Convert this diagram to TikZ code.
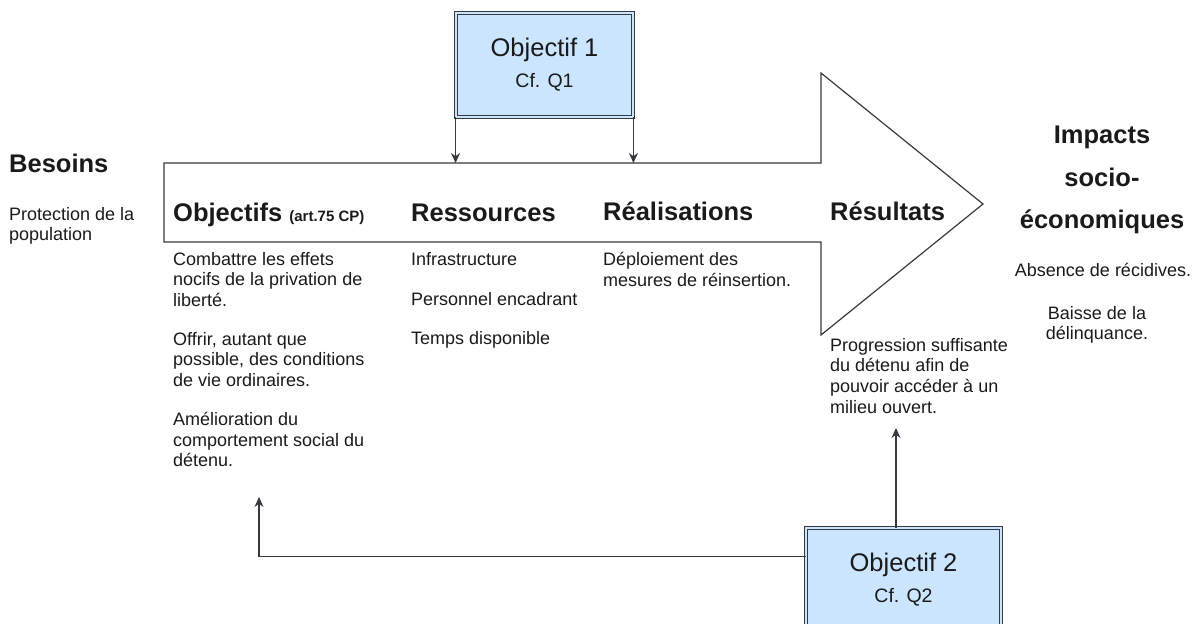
\documentclass[tikz,border=0pt]{standalone}
\usepackage{fontspec}
\setmainfont{Liberation Sans}
\usetikzlibrary{arrows.meta}
\definecolor{boxfill}{HTML}{CCE5FF}
\definecolor{stroke}{HTML}{36393D}
\definecolor{ink}{HTML}{1A1A1A}
\tikzset{
  body/.style={font=\fontsize{18}{20.7}\selectfont, align=left, anchor=north west, inner sep=0pt, text=ink},
  head/.style={font=\fontsize{25.5}{30}\selectfont\bfseries, anchor=base west, inner sep=0pt, text=ink},
  objbox/.style={draw=stroke, line width=0.9pt, double=boxfill, double distance=2.2pt, fill=boxfill, inner sep=0pt, align=center, text=ink, font=\fontsize{19.5}{31}\selectfont},
  conn/.style={draw=stroke, line width=1.2pt, -{Stealth[length=10pt,width=9pt]}},
  bigarrow/.style={draw=stroke, line width=1.2pt, line join=miter}
}
\begin{document}
\begin{tikzpicture}[x=1pt,y=-1pt]
\useasboundingbox (0,0) rectangle (1192,624);
\clip (0,0) rectangle (1192,624);

% big arrow
\draw[bigarrow] (164,163) -- (821,163) -- (821,73) -- (983,204) -- (821,335) -- (821,242) -- (164,242) -- cycle;
\coordinate (shafttop) at (164,163);

% left column
\node[head] (besoins) at (9,172) {Besoins};
\node[body] (besoinsTxt) at (9,207) {Protection de la\\population};

% headings in arrow
\node[head] (objH) at (173,221) {Objectifs {\fontsize{15}{18}\selectfont (art.75 CP)}};
\node[head] (resH) at (411,221) {Ressources};
\node[head] (realH) at (603,220) {Réalisations};
\node[head] (resuH) at (830,220) {Résultats};

% Objectifs texts
\node[body] (obj1) at (173,252) {Combattre les effets\\nocifs de la privation de\\liberté.};
\node[body] (obj2) at (173,332) {Offrir, autant que\\possible, des conditions\\de vie ordinaires.};
\node[body] (obj3) at (173,412) {Amélioration du\\comportement social du\\détenu.};

% Ressources texts
\node[body] (res1) at (411,252) {Infrastructure};
\node[body] (res2) at (411,292) {Personnel encadrant};
\node[body] (res3) at (411,331) {Temps disponible};

% Réalisations
\node[body] (real1) at (603,252) {Déploiement des\\mesures de réinsertion.};

% Résultats
\node[body] (resu1) at (830,338) {Progression suffisante\\du détenu afin de\\pouvoir accéder à un\\milieu ouvert.};

% Impacts
\node[font=\fontsize{25.5}{42.5}\selectfont\bfseries, align=center, anchor=north, inner sep=0pt, text=ink] (impH) at (1102,126) {Impacts\\socio-\\économiques};
\node[font=\fontsize{18}{20.7}\selectfont, anchor=base, inner sep=0pt, text=ink] (imp1) at (1103,276) {Absence de récidives.};
\node[font=\fontsize{18}{20.7}\selectfont, align=center, anchor=north, inner sep=0pt, text=ink] (imp2) at (1097,306) {Baisse de la\\délinquance.};

% Objective boxes
\node[objbox, minimum width=177pt, minimum height=104pt] (o1) at (544.5,65) {{\fontsize{25.5}{31}\selectfont Objectif 1}\\Cf. Q1};
\node[objbox, minimum width=195pt, minimum height=104pt] (o2) at (903.5,580) {{\fontsize{25.5}{31}\selectfont Objectif 2}\\Cf. Q2};

% connectors
\draw[conn] (o1.south west) -- (o1.south west |- shafttop);
\draw[conn] (o1.south east) -- (o1.south east |- shafttop);
\coordinate (t2) at (259,497);
\draw[conn] ([yshift=-29pt]o2.north west) -| (t2);
\coordinate (t3) at (896,428);
\draw[conn] (o2.north -| t3) -- (t3);
\end{tikzpicture}
\end{document}
